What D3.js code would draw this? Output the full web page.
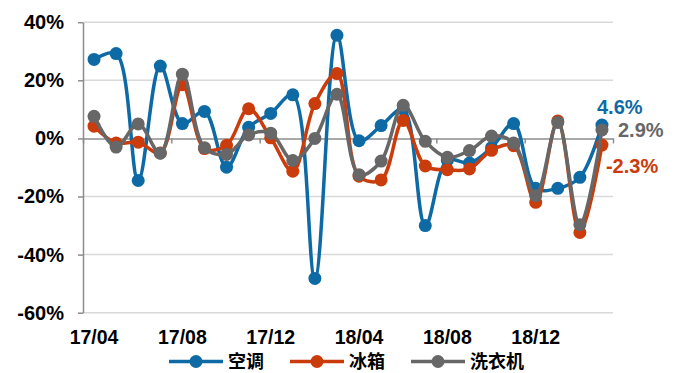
<!DOCTYPE html>
<html>
<head>
<meta charset="utf-8">
<script src="https://cdn.jsdelivr.net/npm/d3@7/dist/d3.min.js"></script>
<style>
  html, body { margin: 0; padding: 0; background: #fff; }
  svg text { font-family: "Liberation Sans", Arial, sans-serif; font-weight: bold; }
</style>
</head>
<body>
<svg id="chart" width="683" height="373"></svg>
<script>
// Monthly year-on-year growth (%), 2017/04 – 2019/03
const months = [
  "17/04","17/05","17/06","17/07","17/08","17/09","17/10","17/11","17/12",
  "18/01","18/02","18/03","18/04","18/05","18/06","18/07","18/08","18/09",
  "18/10","18/11","18/12","19/01","19/02","19/03"
];
const airConditioner = [27.2, 29.2, -14.5, 24.9, 5.1, 9.3, -9.9, 3.8, 8.6, 15.0, -48.2, 35.5,
                        -0.8, 4.4, 10.0, -30.0, -7.5, -8.5, -3.2, 5.1, -17.2, -17.2, -13.4, 4.6];
const refrigerator   = [4.2, -1.6, -1.3, -5.0, 18.5, -3.5, -2.4, 10.2, 0.2, -11.3, 12.0, 22.3,
                        -13.0, -14.3, 6.2, -9.5, -10.8, -10.5, -4.1, -2.5, -22.0, 6.0, -32.4, -2.3];
const washer         = [7.6, -3.0, 5.0, -5.1, 22.1, -3.2, -5.5, 1.2, 1.8, -7.6, 0.0, 15.2,
                        -12.5, -7.8, 11.4, -1.0, -6.5, -4.2, 0.8, -1.6, -19.7, 5.5, -29.7, 2.9];
const seriesNames  = ["空调", "冰箱", "洗衣机"];
const seriesColors = ["#0E6AA5", "#CB3C0C", "#676767"];
const yTicks = [-60, -40, -20, 0, 20, 40];
const xTickLabels = ["17/04", "17/08", "17/12", "18/04", "18/08", "18/12"];

const series = [airConditioner, refrigerator, washer].map((values, i) => ({
  name: seriesNames[i], color: seriesColors[i], values
}));

const svg = d3.select("#chart");
const plot = { left: 83, right: 613, top: 22.2, bottom: 312.7 };

const x = d3.scaleBand().domain(months).range([plot.left, plot.right]);
const cx = m => x(m) + x.bandwidth() / 2;
const y = d3.scaleLinear().domain([-60, 40]).range([plot.bottom, plot.top]);
// index scale used for the tick marks between month groups on the zero line
const xi = d3.scaleLinear().domain([0, months.length]).range([plot.left, plot.right]);

// horizontal gridlines
svg.append("g").selectAll("line")
  .data(yTicks.filter(d => d !== 0))
  .join("line")
  .attr("x1", plot.left).attr("x2", plot.right)
  .attr("y1", d => y(d)).attr("y2", d => y(d))
  .attr("stroke", "#d9d9d9").attr("stroke-width", 1.5);

// y axis
const yAxis = svg.append("g")
  .attr("transform", `translate(${plot.left},0)`)
  .call(d3.axisLeft(y).tickValues(yTicks).tickSize(5).tickSizeOuter(0).tickPadding(14)
    .tickFormat(d => d + "%"));
yAxis.select(".domain").attr("stroke", "#8c8c8c").attr("stroke-width", 1.5);
yAxis.selectAll(".tick line").attr("stroke", "#8c8c8c").attr("stroke-width", 1.5);
yAxis.selectAll(".tick text").attr("fill", "#000").style("font-size", "20px")
  .style("font-family", '"Liberation Sans", Arial, sans-serif').style("font-weight", "bold");

// zero line with category group ticks
const zeroAxis = svg.append("g")
  .attr("transform", `translate(0,${y(0)})`)
  .call(d3.axisBottom(xi).tickValues(d3.range(0, months.length + 1, 4))
    .tickSize(5).tickSizeOuter(0).tickFormat(""));
zeroAxis.select(".domain").attr("stroke", "#8c8c8c").attr("stroke-width", 1.5);
zeroAxis.selectAll(".tick line").attr("stroke", "#8c8c8c").attr("stroke-width", 1.5);

// month labels along the bottom
const xAxis = svg.append("g")
  .attr("transform", `translate(0,${plot.bottom})`)
  .call(d3.axisBottom(x).tickValues(xTickLabels).tickSize(0).tickPadding(17));
xAxis.select(".domain").remove();
xAxis.selectAll(".tick text").attr("fill", "#000").style("font-size", "19.5px")
  .style("font-family", '"Liberation Sans", Arial, sans-serif').style("font-weight", "bold");

// series lines and markers
const line = d3.line()
  .x((d, i) => cx(months[i]))
  .y(d => y(d))
  .curve(d3.curveCatmullRom.alpha(0.5));

series.forEach(s => {
  const g = svg.append("g");
  g.append("path")
    .attr("d", line(s.values))
    .attr("fill", "none")
    .attr("stroke", s.color)
    .attr("stroke-width", 3.5)
    .attr("stroke-linejoin", "round");
  g.selectAll("circle")
    .data(s.values)
    .join("circle")
    .attr("cx", (d, i) => cx(months[i]))
    .attr("cy", d => y(d))
    .attr("r", 6.5)
    .attr("fill", s.color);
});

// end-of-series value labels
const last = months.length - 1;
const endLabels = [
  { s: series[0], dx: -5, dy: -11, anchor: "start" },
  { s: series[2], dx: 16, dy: 7, anchor: "start" },
  { s: series[1], dx: 4, dy: 28, anchor: "start" }
];
svg.append("g").selectAll("text")
  .data(endLabels)
  .join("text")
  .attr("x", d => cx(months[last]) + d.dx)
  .attr("y", d => y(d.s.values[last]) + d.dy)
  .attr("text-anchor", d => d.anchor)
  .attr("fill", d => d.s.color)
  .style("font-size", "20px")
  .text(d => d.s.values[last].toFixed(1) + "%");

// legend
const legendY = 361.5;
const legendX = [169, 290, 411];
const legend = svg.append("g").selectAll("g")
  .data(series)
  .join("g")
  .attr("transform", (d, i) => `translate(${legendX[i]},${legendY})`);
legend.append("line")
  .attr("x1", 0).attr("x2", 54)
  .attr("stroke", d => d.color).attr("stroke-width", 3.5);
legend.append("circle")
  .attr("cx", 27).attr("r", 6.5).attr("fill", d => d.color);
legend.append("text")
  .attr("x", 59).attr("dy", "0.36em")
  .style("font-family", '"Noto Sans CJK SC", sans-serif')
  .style("font-size", "18px")
  .style("font-weight", "bold")
  .attr("fill", "#000")
  .text(d => d.name);
</script>
</body>
</html>
